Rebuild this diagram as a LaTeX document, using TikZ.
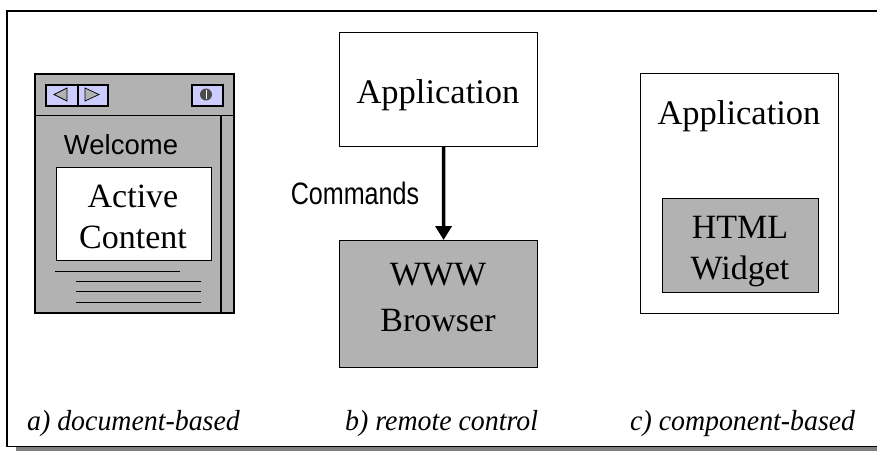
\documentclass[tikz,border=0pt]{standalone}
\usepackage{fontspec}
\setmainfont{Liberation Serif}
\newfontfamily\labelfont[FakeStretch=0.81]{Liberation Sans}
\newfontfamily\plainfont{Liberation Sans}
\newfontfamily\capfont[FakeStretch=0.96]{Liberation Serif}
\usetikzlibrary{arrows.meta}
\definecolor{panelgray}{RGB}{178,178,178}
\definecolor{buttonblue}{RGB}{204,204,255}
\tikzset{
	box/.style={draw,line width=1pt,anchor=north west,inner sep=0pt},
	button/.style={draw,line width=1.8pt,fill=buttonblue,anchor=north west,inner sep=0pt},
	boxtext/.style={inner sep=0pt,align=center},
	caption/.style={font=\capfont\itshape\fontsize{29}{29}\selectfont,anchor=base west,inner sep=0pt}
}
\begin{document}
\begin{tikzpicture}[x=1pt,y=-1pt]
	\useasboundingbox (0,0) rectangle (877,451);
	% Rahmen mit Schatten
	\fill[gray] (16,447) rectangle (877,451);
	\draw[line width=1.2pt] (877,11) -- (7,11) -- (7,446.5) -- (877,446.5);

	% a) Fenster
	\node[box,fill=panelgray,line width=1.6pt,minimum width=199pt,minimum height=239pt] (window) at (34,73) {};
	\draw[line width=0.9pt] (34,115) -- (233,115);
	\draw[line width=1.2pt] (221,115) -- (221,312);
	\node[button,minimum width=32pt,minimum height=21pt] (back) at (45,84) {};
	\node[button,minimum width=30pt,minimum height=21pt] (forward) at (77,84) {};
	\node[button,minimum width=31pt,minimum height=21pt] (info) at (191,84) {};
	\draw[fill=panelgray,line width=0.7pt] (54,94.5) -- (67,88) -- (67,101) -- cycle;
	\draw[fill=panelgray,line width=0.7pt] (99,94.5) -- (85,88) -- (85,101) -- cycle;
	\fill[black!70] (206,94.5) circle (6);
	\draw[white,line width=0.8pt] (206,90) -- (206,99);
	\node[boxtext,font=\plainfont\fontsize{27.5}{27.5}\selectfont] (welcome) at (121,145) {Welcome};
	\node[box,fill=white,minimum width=155pt,minimum height=93pt] (content) at (55.5,167) {};
	\node[boxtext,font=\fontsize{34}{41}\selectfont] (contentlabel) at (133,217) {Active\\Content};
	\draw[line width=0.8pt] (55,271) -- (180,271);
	\foreach \y in {281,291,302} {
		\draw[line width=0.8pt] (76,\y) -- (201,\y);
	}

	% b) Fernsteuerung
	\node[box,minimum width=198pt,minimum height=114pt] (app) at (339,32) {};
	\node[boxtext,font=\fontsize{34.5}{40}\selectfont] (applabel) at (438,95) {Application};
	\node[box,fill=panelgray,line width=1.2pt,minimum width=198pt,minimum height=127pt] (browser) at (339,240) {};
	\node[boxtext,font=\fontsize{34}{46}\selectfont] (browserlabel) at (438,298) {WWW\\Browser};
	\draw[-{Triangle[length=14pt,width=16pt]},line width=3.5pt] ([xshift=5pt]app.south) -- ([xshift=5pt]browser.north);
	\node[boxtext,font=\labelfont\fontsize{31}{31}\selectfont] (commands) at (355,193) {Commands};

	% c) Komponente
	\node[box,minimum width=198pt,minimum height=240pt] (host) at (640,72.5) {};
	\node[boxtext,font=\fontsize{34.5}{40}\selectfont] (hostlabel) at (739,116) {Application};
	\node[box,fill=panelgray,minimum width=156pt,minimum height=94pt] (widget) at (662,198) {};
	\node[boxtext,font=\fontsize{34}{41}\selectfont] (widgetlabel) at (740,252) {HTML\\Widget};

	% Beschriftung
	\node[caption] (capa) at (27,430) {a) document-based};
	\node[caption] (capb) at (345,430) {b) remote control};
	\node[caption] (capc) at (630,430) {c) component-based};
\end{tikzpicture}
\end{document}
